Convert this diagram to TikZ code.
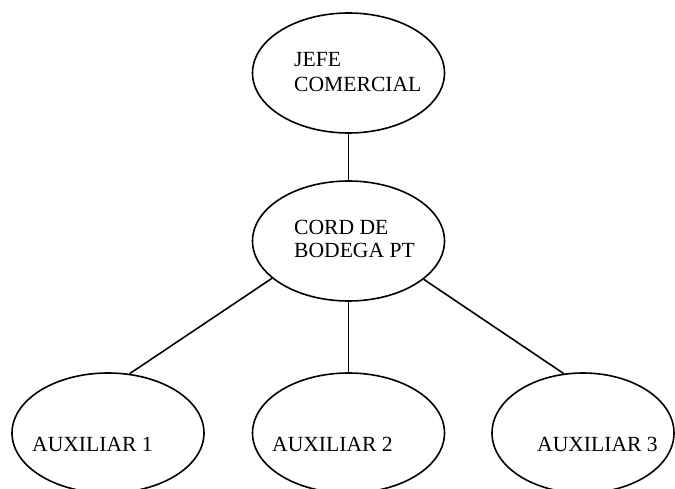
\documentclass[tikz,border=0pt]{standalone}
\usepackage{fontspec}
\setmainfont{Liberation Serif}
\usetikzlibrary{shapes.geometric}
\begin{document}
\begin{tikzpicture}[x=1pt,y=-1pt,
  oval/.style={ellipse,draw=black,line width=1.6pt,inner sep=0pt,minimum width=192pt,minimum height=120pt},
  lbl/.style={anchor=base west,inner sep=0pt,font=\fontsize{21.6}{24}\selectfont},
  link/.style={draw=black,line width=1.6pt}]
\clip (0,0) rectangle (675,489);
\fill[white] (0,0) rectangle (675,489);
\node[oval] (jefe) at (348.5,73) {};
\node[oval] (cord) at (348.5,241) {};
\node[oval] (aux1) at (108,433) {};
\node[oval] (aux2) at (348.5,433) {};
\node[oval,minimum width=182pt] (aux3) at (583,433) {};
\node[lbl] (t1a) at (294,67) {JEFE};
\node[lbl] (t1b) at (294,92) {COMERCIAL};
\node[lbl] (t2a) at (294,235) {CORD DE};
\node[lbl] (t2b) at (294,258) {BODEGA PT};
\node[lbl] (t3) at (32,451) {AUXILIAR 1};
\node[lbl] (t4) at (272,451) {AUXILIAR 2};
\node[lbl] (t5) at (537,451) {AUXILIAR 3};
\path[link] (jefe.south) -- (cord.north);
\path[link] (cord.south) -- (aux2.north);
\path[link] (cord.206) -- (aux1.70);
\path[link] (cord.333) -- (aux3.108);
\end{tikzpicture}
\end{document}
